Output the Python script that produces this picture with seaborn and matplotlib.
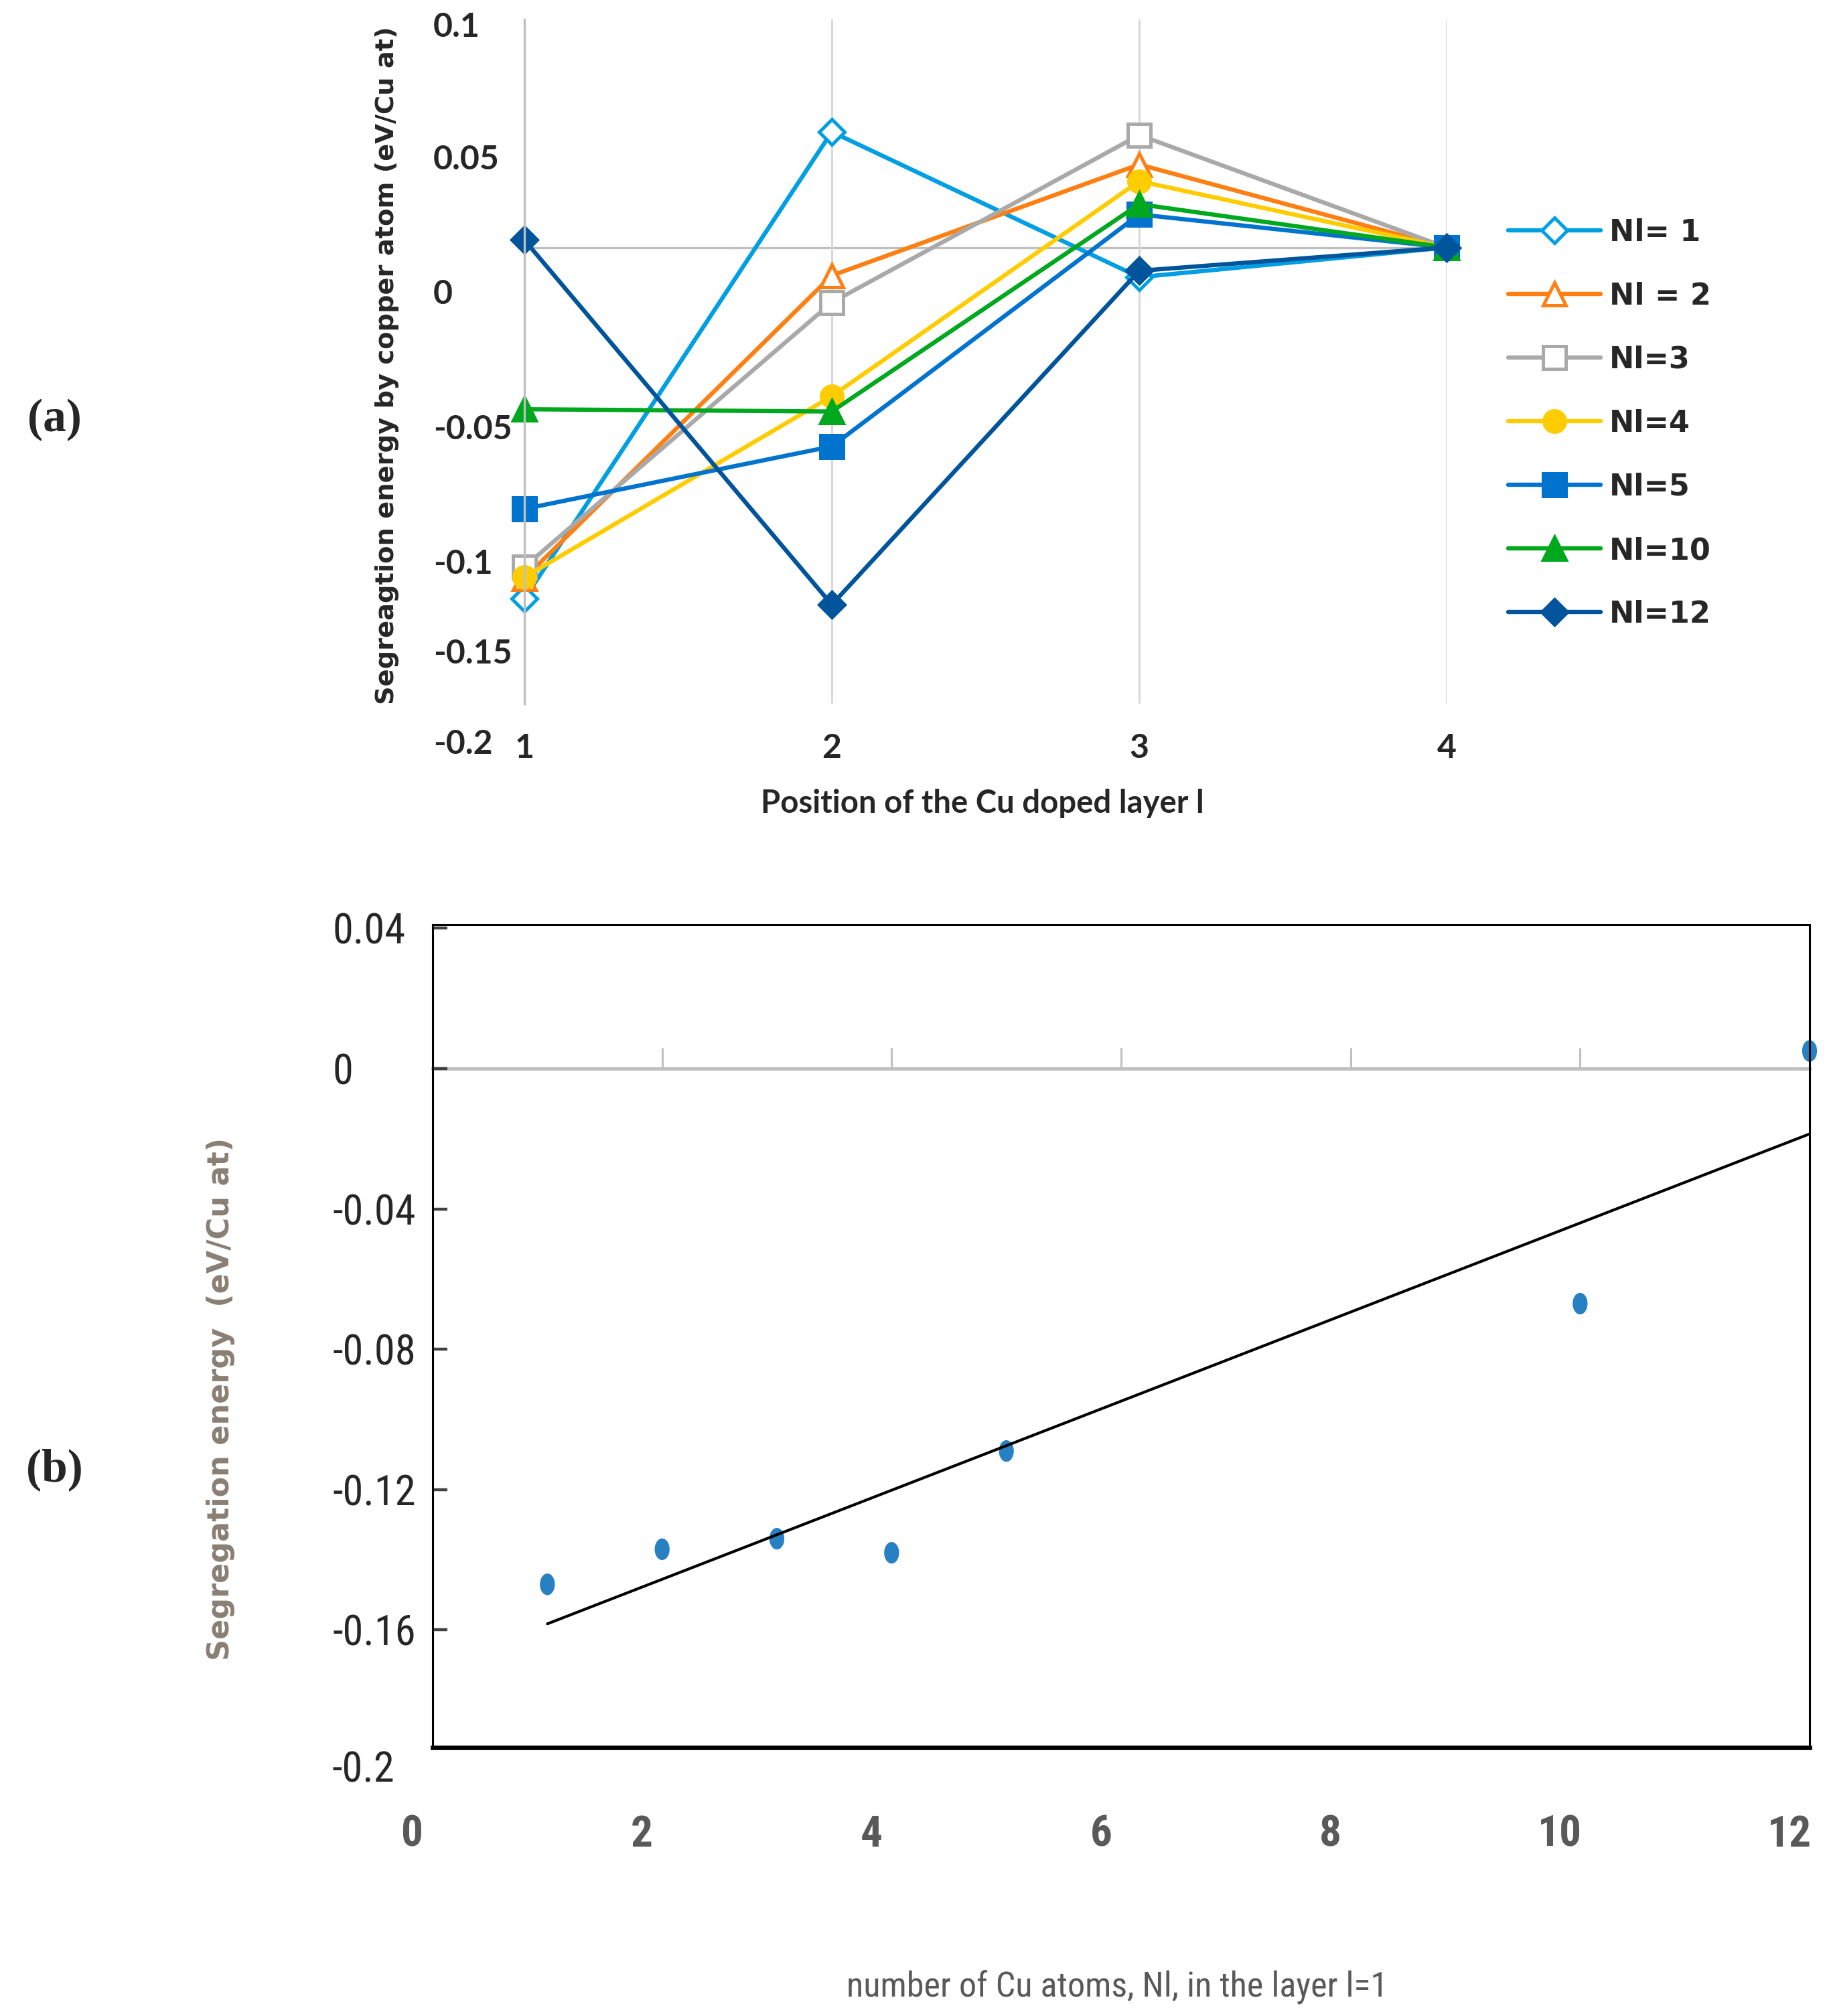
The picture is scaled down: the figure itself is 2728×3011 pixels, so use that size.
import matplotlib
matplotlib.use("Agg")
import matplotlib.pyplot as plt
import matplotlib.font_manager as fm
from matplotlib.markers import MarkerStyle
from matplotlib.transforms import Affine2D, ScaledTranslation
import seaborn as sns

W, H, DPI = 2728, 3011, 200

# ---- panel (a): segregation energy vs position of the doped layer ----
layers = [1, 2, 3, 4]
series_labels = ["Nl= 1", "Nl = 2", "Nl=3", "Nl=4", "Nl=5", "Nl=10", "Nl=12"]
e_nl1 = [-0.154, 0.0507, -0.0130, 0.0]
e_nl2 = [-0.145, -0.0123, 0.0364, 0.0]
e_nl3 = [-0.140, -0.0241, 0.0493, 0.0]
e_nl4 = [-0.1446, -0.0652, 0.0291, 0.0]
e_nl5 = [-0.1146, -0.0872, 0.0145, 0.0]
e_nl10 = [-0.0709, -0.0719, 0.0190, 0.0]
e_nl12 = [0.0033, -0.1566, -0.0102, 0.0]
ytick_text_a = ["0.1", "0.05", "0", "-0.05", "-0.1", "-0.15", "-0.2"]

# ---- panel (b): segregation energy in layer 1 vs number of Cu atoms ----
nl_atoms = [1, 2, 3, 4, 5, 10, 12]
eseg_l1 = [-0.147, -0.137, -0.134, -0.138, -0.109, -0.067, 0.005]
yticks_b = [0.04, 0, -0.04, -0.08, -0.12, -0.16]
ytick_text_b = ["0.04", "0", "-0.04", "-0.08", "-0.12", "-0.16"]
xticks_b = [0, 2, 4, 6, 8, 10, 12]

sns.set_theme(style="white")
names = {f.name for f in fm.fontManager.ttflist}


def pick(cands):
    for c in cands:
        if c in names:
            return c
    return "DejaVu Sans"


narrow = pick(["Liberation Sans Narrow", "Roboto Condensed", "DejaVu Sans Condensed",
               "Open Sans Condensed", "Roboto"])
human = pick(["Lato", "Open Sans"])
serif = pick(["Liberation Serif", "DejaVu Serif"])
plt.rcParams["font.family"] = ["DejaVu Sans"]

colors = ["#009FE3", "#FF7F12", "#A9A9A9", "#FFCC00", "#0073CF", "#00A81E", "#00549C"]
markers = ["D", "^", "s", "o", "s", "^", "D"]
msizes = [9.5, 12.5, 12, 11.5, 12.5, 12.5, 9.5]
filled = [False, False, False, True, True, True, True]

fig = plt.figure(figsize=(W / DPI, H / DPI), dpi=DPI)

# panel (a)
axa = fig.add_axes([783 / W, 1 - 1051 / H, 1377 / W, 1022 / H])
all_a = [e_nl1, e_nl2, e_nl3, e_nl4, e_nl5, e_nl10, e_nl12]
for lab, vals, c, m, ms, fill in zip(series_labels, all_a, colors, markers, msizes, filled):
    sns.lineplot(
        x=layers, y=vals, ax=axa, color=c, marker=m, markersize=ms,
        markerfacecolor=c if fill else "white", markeredgecolor=c,
        markeredgewidth=1.8, linewidth=2.3, label=lab, clip_on=False,
    )
axa.set_xlim(1, 4)
axa.set_ylim(-0.2, 0.1)
axa.set_xticks(layers)
axa.set_yticks([])
axa.grid(axis="x", color="#D9D9D9", lw=1.1)
axa.axhline(0, color="#BFBFBF", lw=1.2, zorder=0.5)
for s in ["top", "right", "bottom"]:
    axa.spines[s].set_visible(False)
axa.spines["left"].set_color("#BFBFBF")
axa.spines["left"].set_linewidth(1.2)
axa.tick_params(axis="x", length=0, pad=16, labelsize=18)
for lbl in axa.get_xticklabels():
    lbl.set_fontfamily(human)
    lbl.set_fontweight("bold")

# the y labels of the original sit off their true values, left aligned
ytext_pos_a = [0.9892, 0.7950, 0.5984, 0.4007, 0.2040, 0.0729, -0.0592]
for t, yp in zip(ytick_text_a, ytext_pos_a):
    axa.text(-0.0988, yp, t, transform=axa.transAxes, ha="left", va="center",
             family=human, weight="bold", size=18, clip_on=False)

axa.set_xlabel("Position of the Cu doped layer l", family=human, weight="bold",
               size=17, va="center")
axa.xaxis.set_label_coords(0.4967, -0.1458)
axa.set_ylabel("Segreagtion energy by copper atom (eV/Cu at)", weight="bold",
               size=13.8, va="center")
axa.yaxis.set_label_coords(-0.1489, 0.4941)

handles, labels = axa.get_legend_handles_labels()
axa.legend(handles, labels, loc="upper left", bbox_to_anchor=(2252 / W, 1 - 326 / H),
           bbox_transform=fig.transFigure, frameon=False, borderpad=0,
           borderaxespad=0, handlelength=3.1, handletextpad=0.3,
           labelspacing=1.17, prop={"weight": "bold", "size": 16})

# panel (b)
axb = fig.add_axes([646 / W, 1 - 2610 / H, 2056 / W, 1229 / H])
dot = MarkerStyle("o", transform=Affine2D().scale(0.69, 1.0))
sns.regplot(
    x=nl_atoms, y=eseg_l1, ax=axb, ci=None, marker=dot,
    scatter_kws={"s": 135, "color": "#2680C2", "edgecolors": "none", "alpha": 1, "clip_on": False},
    line_kws={"color": "black", "lw": 1.5},
)
axb.set_xlim(0, 12)
axb.set_ylim(-0.1935, 0.041)
axb.set_xticks(xticks_b)
axb.set_yticks(yticks_b)
axb.set_yticklabels(ytick_text_b)
axb.tick_params(axis="x", bottom=True, length=0, pad=36, labelsize=23.5, labelcolor="#595959")
axb.tick_params(axis="y", left=True, direction="in", length=8, width=1.6,
                color="#404040", pad=54, labelsize=22.5)
shift = ScaledTranslation(-10.8 / 72, 0, fig.dpi_scale_trans)
for lbl in axb.get_xticklabels():
    lbl.set_fontfamily(narrow)
    lbl.set_fontweight("bold")
    lbl.set_transform(lbl.get_transform() + shift)
for lbl in axb.get_yticklabels():
    lbl.set_fontfamily(narrow)
    lbl.set_horizontalalignment("left")
axb.text(-0.0734, -0.2, "-0.2", transform=axb.get_yaxis_transform(), ha="left",
         va="center", family=narrow, size=22.5, clip_on=False)
for s in ["top", "right", "left"]:
    axb.spines[s].set_color("black")
    axb.spines[s].set_linewidth(1.1)
axb.spines["bottom"].set_color("black")
axb.spines["bottom"].set_linewidth(2.4)

# x axis crossing at zero, ticks pointing up
zero_ax = axb.secondary_xaxis(0, transform=axb.transData)
zero_ax.set_xticks([2, 4, 6, 8, 10])
zero_ax.tick_params(direction="in", length=11, width=1.1, colors="#BFBFBF",
                    labelbottom=False, labeltop=False)
zero_ax.spines["bottom"].set_color("#BFBFBF")
zero_ax.spines["bottom"].set_linewidth(1.8)

axb.set_xlabel("number of Cu atoms, Nl, in the layer l=1", family=narrow,
               size=18.8, color="#595959", va="center")
axb.xaxis.set_label_coords(0.497, -0.2913)
axb.set_ylabel("Segregation energy  (eV/Cu at)", weight="bold",
               size=16, color="#8a7f73", va="center")
axb.yaxis.set_label_coords(-0.1537, 0.4239)

fig.text(81 / W, 1 - 627 / H, "(a)", family=serif, weight="bold", size=25,
         ha="center", va="center")
fig.text(81 / W, 1 - 2195 / H, "(b)", family=serif, weight="bold", size=25,
         ha="center", va="center")

fig.savefig("out.png", dpi=DPI)
